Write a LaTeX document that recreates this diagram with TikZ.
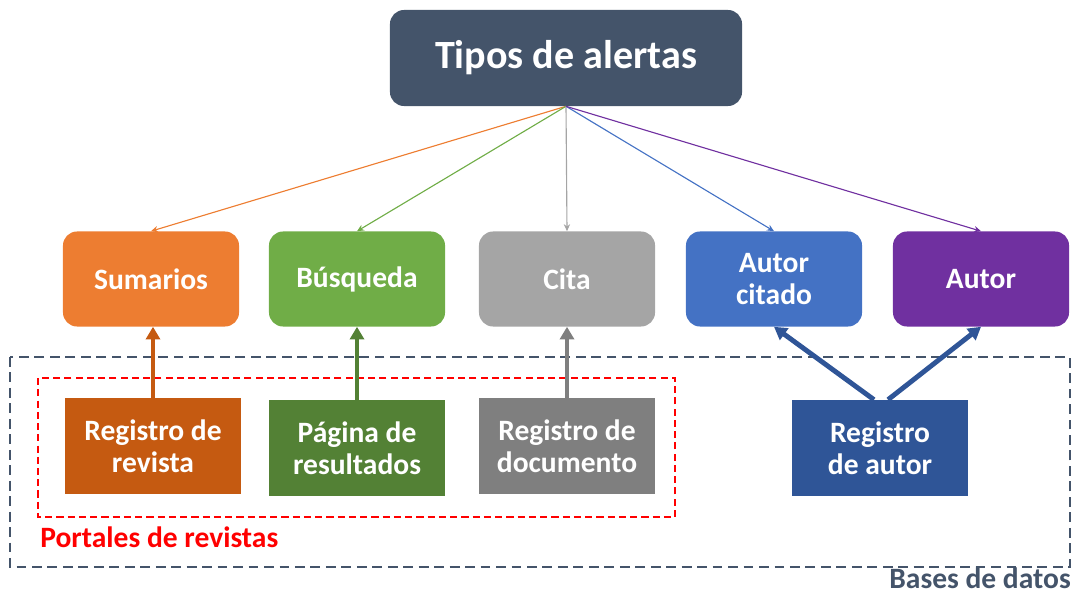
\documentclass[tikz,border=0pt]{standalone}
\usepackage{fontspec}
\setmainfont{Carlito}
\usetikzlibrary{positioning,arrows.meta}

\definecolor{pizarra}{HTML}{44546A}
\definecolor{naranja}{HTML}{ED7D31}
\definecolor{verde}{HTML}{70AD47}
\definecolor{gris}{HTML}{A5A5A5}
\definecolor{azul}{HTML}{4472C4}
\definecolor{morado}{HTML}{7030A0}
\definecolor{naranjaosc}{HTML}{C55A11}
\definecolor{verdeosc}{HTML}{538135}
\definecolor{grisosc}{HTML}{7F7F7F}
\definecolor{azulosc}{HTML}{2F5597}

\begin{document}
\begin{tikzpicture}[x=0.025cm, y=-0.025cm]
   \tikzstyle{every node}=[font=\bfseries\fontsize{21}{23}\selectfont, text=white, align=center, inner sep=0pt]
   \tikzstyle{tipo}=[rounded corners=10pt, minimum width=4.4cm, minimum height=2.375cm]
   \tikzstyle{registro}=[minimum width=4.4cm, minimum height=2.4cm]
   \tikzstyle{rama}=[line width=0.8pt, -{Stealth[length=5pt, width=4.5pt]}]
   \tikzstyle{sube}=[line width=3.5pt, -{Triangle[length=9pt, width=10pt]}]

   \useasboundingbox (0,0) rectangle (1075,596);

   % grupos
   \draw[pizarra, line width=1pt, dash pattern=on 7pt off 4pt] (10,357) rectangle (1070,567);
   \draw[red, line width=1pt, dash pattern=on 5pt off 3pt] (38,378) rectangle (675,517);
   \node[text=red, anchor=west] (portales) at (40,537) {Portales de revistas};
   \node[text=pizarra, anchor=east] (bases) at (1071,578) {Bases de datos};

   \node[tipo, fill=pizarra, minimum width=8.8cm, minimum height=2.4cm,
         font=\bfseries\fontsize{28.5}{32}\selectfont] (tipos) at (566,58) {\raisebox{-3pt}{Tipos de alertas}};

   \node[tipo, fill=naranja] (sumarios) at (151,279) {Sumarios};
   \node[tipo, fill=verde] (busqueda) at (357,279) {Búsqueda};
   \node[tipo, fill=gris] (cita) at (567,279) {Cita};
   \node[tipo, fill=azul] (citado) at (774,279) {Autor\\citado};
   \node[tipo, fill=morado] (autor) at (981,279) {Autor};

   \node[registro, fill=naranjaosc] (revista) at (153,446) {Registro de\\revista};
   \node[registro, fill=verdeosc] (resultados) at (357,448) {Página de\\resultados};
   \node[registro, fill=grisosc] (documento) at (567,446) {Registro de\\documento};
   \node[registro, fill=azulosc] (regautor) at (880,448) {Registro\\de autor};

   \draw[rama, naranja] (tipos.south) -- (sumarios.north);
   \draw[rama, verde] (tipos.south) -- (busqueda.north);
   \draw[rama, gris] (tipos.south) -- (cita.north);
   \draw[rama, azul] (tipos.south) -- (citado.north);
   \draw[rama, morado] (tipos.south) -- (autor.north);

   \draw[sube, naranjaosc] (revista.north) -- (revista.north |- sumarios.south);
   \draw[sube, verdeosc] (resultados.north) -- (busqueda.south);
   \draw[sube, grisosc] (documento.north) -- (cita.south);
   \draw[sube, azulosc] ([xshift=-0.15cm]regautor.north) -- (citado.south);
   \draw[sube, azulosc] ([xshift=0.2cm]regautor.north) -- (autor.south);

\end{tikzpicture}
\end{document}
